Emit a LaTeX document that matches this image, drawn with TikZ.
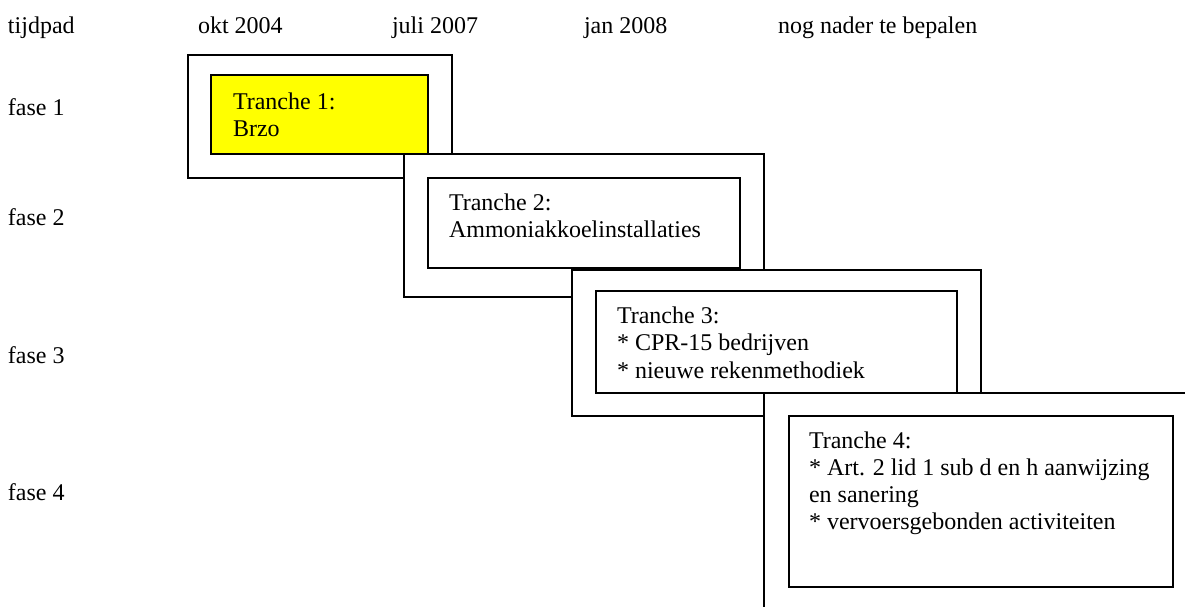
\documentclass[tikz,border=0pt]{standalone}
\usepackage{fontspec}
\setmainfont{Liberation Serif}
\newcommand\fsz{\fontsize{24}{27}\selectfont}
\definecolor{trYellow}{HTML}{FFFF00}
\tikzset{
  boxst/.style={draw=black, line width=1.7pt, fill=white, inner sep=0pt, outer sep=0pt, anchor=north west},
  lbl/.style={anchor=base west, inner sep=0pt, outer sep=0pt, font=\fsz, text=black}
}
\begin{document}
\begin{tikzpicture}[x=1pt,y=-1pt]
\clip (0,0) rectangle (1185,606);
\fill[white] (0,0) rectangle (1185,606);
% header
\node[lbl] (tij) at (8,33) {tijdpad};
\node[lbl] (okt) at (198,33) {okt 2004};
\node[lbl] (jul) at (392,33) {juli 2007};
\node[lbl] (jan) at (584,33) {jan 2008};
\node[lbl] (nog) at (778,33) {nog nader te bepalen};
% phases
\node[lbl] (f1) at (8,115) {fase 1};
\node[lbl] (f2) at (8,225) {fase 2};
\node[lbl] (f3) at (8,363) {fase 3};
\node[lbl] (f4) at (8,500) {fase 4};
% tranche 1
\node[boxst, minimum width=264, minimum height=123] (o1) at (188,55) {};
\node[boxst, fill=trYellow, minimum width=217, minimum height=79] (i1) at (211,75) {};
\node[lbl] (t1a) at (233,109) {Tranche 1:};
\node[lbl] (t1b) at (233,136) {Brzo};
% tranche 2
\node[boxst, minimum width=360, minimum height=143] (o2) at (404,154) {};
\node[boxst, minimum width=312, minimum height=90] (i2) at (428,178) {};
\node[lbl] (t2a) at (449,210) {Tranche 2:};
\node[lbl] (t2b) at (449,237) {Ammoniakkoelinstallaties};
% tranche 3
\node[boxst, minimum width=409, minimum height=146] (o3) at (572,270) {};
\node[boxst, minimum width=361, minimum height=102] (i3) at (596,291) {};
\node[lbl] (t3a) at (617,323) {Tranche 3:};
\node[lbl] (t3b) at (617,350.5) {* CPR-15 bedrijven};
\node[lbl] (t3c) at (617,378) {* nieuwe rekenmethodiek};
% tranche 4
\node[boxst, minimum width=500, minimum height=300] (o4) at (764,393) {};
\node[boxst, minimum width=384, minimum height=171] (i4) at (789,416) {};
\node[lbl] (t4a) at (809,448) {Tranche 4:};
\node[lbl] (t4b) at (809,475) {* Art. 2 lid 1 sub d en h aanwijzing};
\node[lbl] (t4c) at (809,502) {en sanering};
\node[lbl] (t4d) at (809,529) {* vervoersgebonden activiteiten};
\end{tikzpicture}
\end{document}
